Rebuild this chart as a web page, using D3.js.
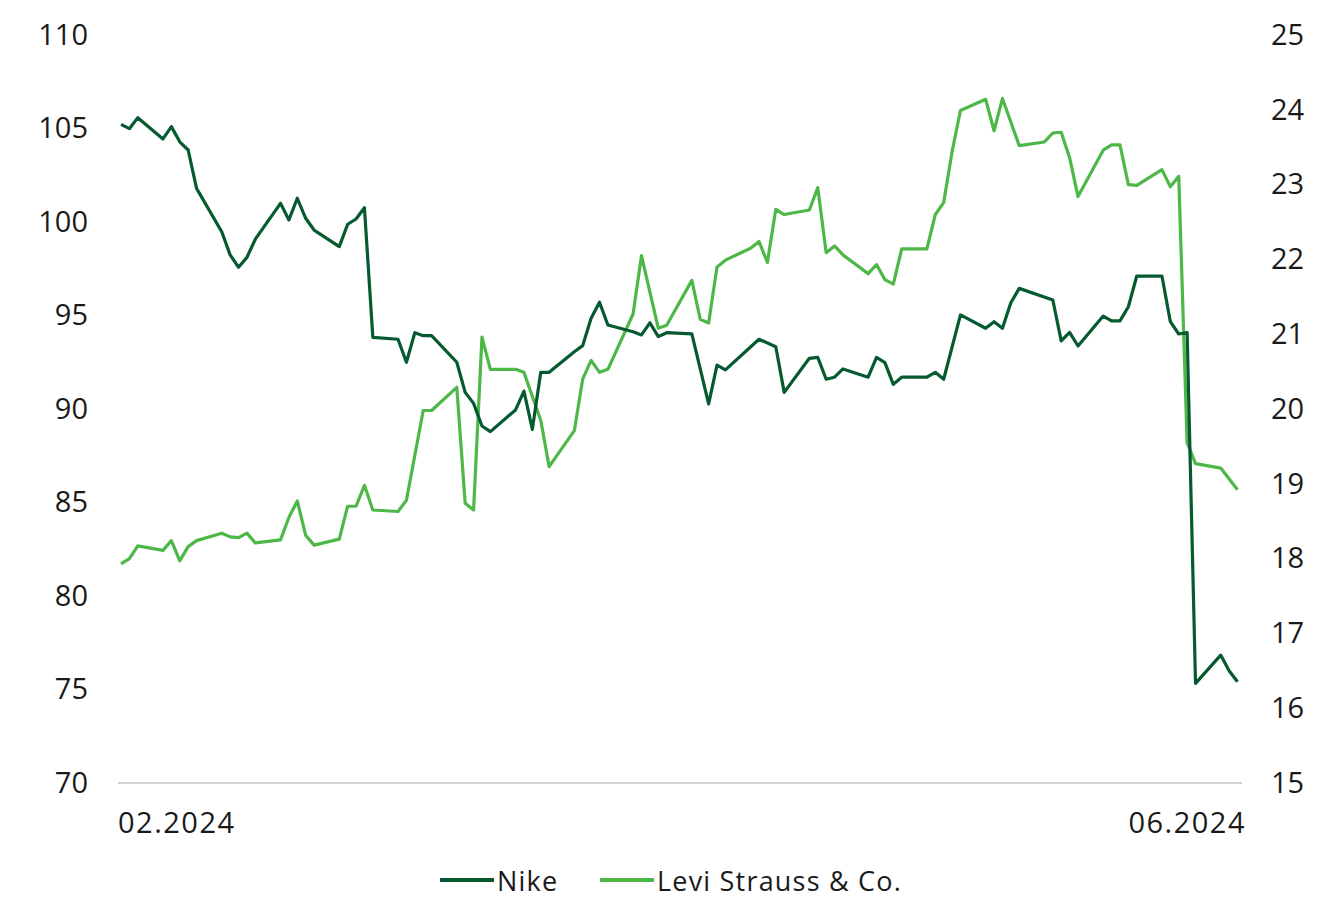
<!DOCTYPE html>
<html>
<head>
<meta charset="utf-8">
<script src="https://cdn.jsdelivr.net/npm/d3@7"></script>
<style>
  html, body { margin: 0; padding: 0; background: #ffffff; }
  svg { display: block; }
  text { font-family: "Open Sans", Lato, sans-serif; fill: #1a1a1a; }
</style>
</head>
<body>
<svg id="chart" width="1317" height="899"></svg>
<script>
// ---- data ----
const seriesNames = ["Nike", "Levi Strauss & Co."];
const xLabels = ["02.2024", "06.2024"];
const leftTicks = [70, 75, 80, 85, 90, 95, 100, 105, 110];
const rightTicks = [15, 16, 17, 18, 19, 20, 21, 22, 23, 24, 25];

const nikeDates = ["2024-02-21","2024-02-22","2024-02-23","2024-02-26","2024-02-27","2024-02-28","2024-02-29","2024-03-01",
  "2024-03-04","2024-03-05","2024-03-06","2024-03-07","2024-03-08","2024-03-11","2024-03-12","2024-03-13","2024-03-14","2024-03-15",
  "2024-03-18","2024-03-19","2024-03-20","2024-03-21","2024-03-22","2024-03-25","2024-03-26","2024-03-27","2024-03-28","2024-03-29",
  "2024-04-01","2024-04-02","2024-04-03","2024-04-04","2024-04-05","2024-04-08","2024-04-09","2024-04-10","2024-04-11","2024-04-12",
  "2024-04-15","2024-04-16","2024-04-17","2024-04-18","2024-04-19","2024-04-22","2024-04-23","2024-04-24","2024-04-25","2024-04-26",
  "2024-04-29","2024-05-01","2024-05-02","2024-05-03","2024-05-07","2024-05-09","2024-05-10",
  "2024-05-13","2024-05-14","2024-05-15","2024-05-16","2024-05-17","2024-05-20","2024-05-21","2024-05-22","2024-05-23","2024-05-24",
  "2024-05-27","2024-05-28","2024-05-29","2024-05-31","2024-06-03","2024-06-04","2024-06-05","2024-06-06","2024-06-07",
  "2024-06-11","2024-06-12","2024-06-13","2024-06-14","2024-06-17","2024-06-18","2024-06-19","2024-06-20","2024-06-21",
  "2024-06-24","2024-06-25","2024-06-26","2024-06-27","2024-06-28","2024-07-01","2024-07-02","2024-07-03"];
const nikeValues = [105.22,104.99,105.58,104.44,105.10,104.29,103.85,101.80,
  99.48,98.24,97.58,98.11,99.08,101.0,100.11,101.27,100.2,99.57,
  98.68,99.88,100.16,100.76,93.83,93.73,92.50,94.08,93.92,93.92,
  92.50,90.89,90.30,89.09,88.79,89.95,90.96,88.91,91.96,91.96,
  93.06,93.39,94.85,95.71,94.49,94.13,93.96,94.61,93.87,94.08,
  94.02,90.27,92.35,92.09,93.73,93.33,90.89,
  92.71,92.76,91.59,91.70,92.14,91.70,92.76,92.48,91.32,91.70,
  91.70,91.96,91.59,95.03,94.32,94.67,94.32,95.68,96.45,
  95.83,93.64,94.1,93.37,94.97,94.71,94.71,95.47,97.11,
  97.11,94.67,94.01,94.08,75.33,76.84,76.0,75.42];

const leviDates = ["2024-02-21","2024-02-22","2024-02-23","2024-02-26","2024-02-27","2024-02-28","2024-02-29","2024-03-01",
  "2024-03-04","2024-03-05","2024-03-06","2024-03-07","2024-03-08","2024-03-11","2024-03-12","2024-03-13","2024-03-14","2024-03-15",
  "2024-03-18","2024-03-19","2024-03-20","2024-03-21","2024-03-22","2024-03-25","2024-03-26","2024-03-28","2024-03-29",
  "2024-04-01","2024-04-02","2024-04-03","2024-04-04","2024-04-05","2024-04-08","2024-04-09","2024-04-11","2024-04-12",
  "2024-04-15","2024-04-16","2024-04-17","2024-04-18","2024-04-19","2024-04-22","2024-04-23","2024-04-25","2024-04-26",
  "2024-04-29","2024-04-30","2024-05-01","2024-05-02","2024-05-03","2024-05-06","2024-05-07","2024-05-08","2024-05-09","2024-05-10",
  "2024-05-13","2024-05-14","2024-05-15","2024-05-16","2024-05-17","2024-05-20","2024-05-21","2024-05-22","2024-05-23","2024-05-24",
  "2024-05-27","2024-05-28","2024-05-29","2024-05-30","2024-05-31","2024-06-03","2024-06-04","2024-06-05","2024-06-07",
  "2024-06-10","2024-06-11","2024-06-12","2024-06-13","2024-06-14","2024-06-17","2024-06-18","2024-06-19","2024-06-20","2024-06-21",
  "2024-06-24","2024-06-25","2024-06-26","2024-06-27","2024-06-28","2024-07-01","2024-07-03"];
const leviValues = [17.93,18.00,18.17,18.11,18.24,17.97,18.16,18.24,
  18.34,18.29,18.28,18.34,18.21,18.25,18.55,18.77,18.31,18.18,
  18.26,18.70,18.70,18.98,18.65,18.63,18.78,19.98,19.98,
  20.29,18.74,18.65,20.96,20.53,20.53,20.49,19.85,19.23,
  19.71,20.40,20.65,20.49,20.53,21.27,22.05,21.08,21.12,
  21.72,21.20,21.15,21.90,21.99,22.15,22.24,21.96,22.67,22.60,
  22.66,22.96,22.09,22.18,22.06,21.81,21.93,21.73,21.67,22.14,
  22.14,22.60,22.76,23.44,23.99,24.14,23.72,24.15,23.52,
  23.57,23.69,23.70,23.36,22.84,23.46,23.53,23.53,23.00,22.99,
  23.20,22.97,23.11,19.55,19.27,19.21,18.92];

const colors = ["#055a30", "#4db848"];
const fontSize = "29px";

// ---- chart ----
const svg = d3.select("#chart");
const parse = d3.timeParse("%Y-%m-%d");
const nike = nikeDates.map((d, i) => ({ date: parse(d), value: nikeValues[i] }));
const levi = leviDates.map((d, i) => ({ date: parse(d), value: leviValues[i] }));

const x = d3.scaleTime()
  .domain([parse(nikeDates[0]), parse(nikeDates[nikeDates.length - 1])])
  .range([121, 1237.5]);
const yL = d3.scaleLinear().domain([70, 110]).range([783, 35]);
const yR = d3.scaleLinear().domain([15, 25]).range([783, 35]);

// baseline
svg.append("line")
  .attr("x1", 118).attr("x2", 1242)
  .attr("y1", yL(70)).attr("y2", yL(70))
  .attr("stroke", "#d4d4d4").attr("stroke-width", 2);

// left axis
const axL = svg.append("g").attr("transform", "translate(88,0)")
  .call(d3.axisLeft(yL).tickValues(leftTicks).tickSize(0).tickPadding(0));
axL.select(".domain").remove();
axL.selectAll("text").style("font-size", fontSize).style("font-family", "'Open Sans', sans-serif").attr("fill", "#1a1a1a");

// right axis
const axR = svg.append("g").attr("transform", "translate(1271,0)")
  .call(d3.axisRight(yR).tickValues(rightTicks).tickSize(0).tickPadding(0));
axR.select(".domain").remove();
axR.selectAll("text").style("font-size", fontSize).style("font-family", "'Open Sans', sans-serif").attr("fill", "#1a1a1a");

// x labels
svg.append("text").attr("x", 118).attr("y", 833)
  .attr("text-anchor", "start").style("font-size", fontSize).style("letter-spacing", "1.5px").text(xLabels[0]);
svg.append("text").attr("x", 1246).attr("y", 833)
  .attr("text-anchor", "end").style("font-size", fontSize).style("letter-spacing", "1.5px").text(xLabels[1]);

// lines
const lineL = d3.line().x(d => x(d.date)).y(d => yL(d.value));
const lineR = d3.line().x(d => x(d.date)).y(d => yR(d.value));

svg.append("path").datum(levi)
  .attr("d", lineR).attr("fill", "none")
  .attr("stroke", colors[1]).attr("stroke-width", 3.2).attr("stroke-linejoin", "round");
svg.append("path").datum(nike)
  .attr("d", lineL).attr("fill", "none")
  .attr("stroke", colors[0]).attr("stroke-width", 3.2).attr("stroke-linejoin", "round");

// legend
const legendY = 880;
const legend = [
  { name: seriesNames[0], color: colors[0], x: 440 },
  { name: seriesNames[1], color: colors[1], x: 600 }
];
const lg = svg.append("g");
legend.forEach(l => {
  lg.append("line").attr("x1", l.x).attr("x2", l.x + 54)
    .attr("y1", legendY).attr("y2", legendY)
    .attr("stroke", l.color).attr("stroke-width", 4);
  lg.append("text").attr("x", l.x + 57).attr("y", legendY)
    .attr("dominant-baseline", "central")
    .style("font-size", "27px").style("letter-spacing", "1.2px").text(l.name);
});
</script>
</body>
</html>
